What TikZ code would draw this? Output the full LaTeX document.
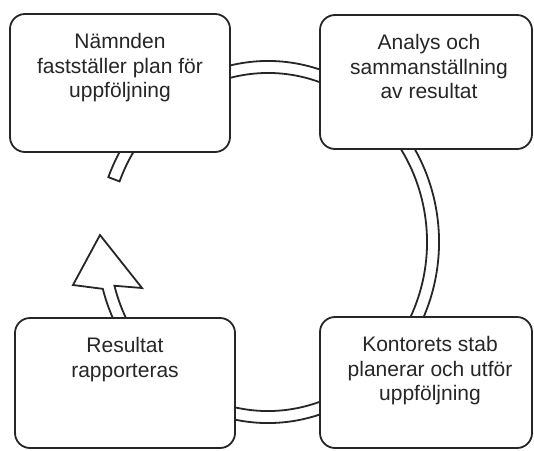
\documentclass[tikz,border=0pt]{standalone}
\usepackage{fontspec}
\setmainfont{Liberation Sans}
\usetikzlibrary{positioning,calc}
\tikzset{
    stage/.style={draw=black!85, line width=1.8pt, rounded corners=15pt, fill=white, inner sep=0pt},
    stagetext/.style={align=center, inner sep=0pt, font=\fontsize{21}{24.5}\selectfont, text=black!85},
    band/.style={draw=black!85, line width=1.8pt, fill=white, line join=miter}
}

\begin{document}
\begin{tikzpicture}[x=1pt, y=-1pt]
    \useasboundingbox (0, 0) rectangle (534, 450);

    \coordinate (ring) at (268, 242);
    \coordinate (tip) at (100, 235);
    \coordinate (headl) at (73, 285);
    \coordinate (headr) at (142, 288);

    \draw[band]
    ([shift={(201:171 and 181)}]ring) arc[start angle=201, end angle=525, x radius=171, y radius=181]
    -- (headl) -- (tip) -- (headr)
    -- ([shift={(525:159 and 169)}]ring) arc[start angle=525, end angle=201, x radius=159, y radius=169]
    -- cycle;

    \node[stage, minimum width=220pt, minimum height=138pt] (plan) at (120, 83) {};
    \node[stage, minimum width=212pt, minimum height=134pt] (analys) at (426, 82) {};
    \node[stage, minimum width=220pt, minimum height=130pt] (resultat) at (125, 383) {};
    \node[stage, minimum width=212pt, minimum height=131pt] (kontor) at (426, 382.5) {};

    \node[stagetext, below=20pt of plan.north] (plantext) {Nämnden\\fastställer plan för\\uppföljning};
    \node[stagetext, below=20pt of analys.north, xshift=3pt] (analystext) {Analys och\\sammanställning\\av resultat};
    \node[stagetext, below=20pt of resultat.north] (resultattext) {Resultat\\rapporteras};
    \node[stagetext, below=20pt of kontor.north, xshift=4pt] (kontortext) {Kontorets stab\\planerar och utför\\uppföljning};
\end{tikzpicture}
\end{document}
